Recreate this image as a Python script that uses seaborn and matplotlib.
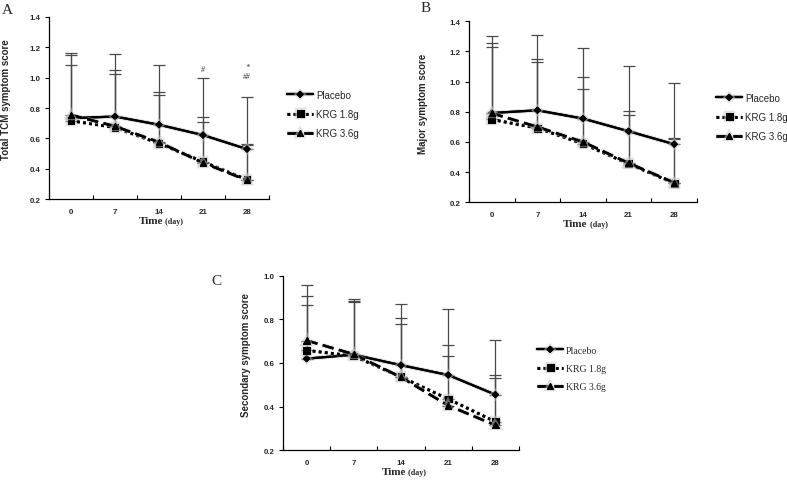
import numpy as np
import matplotlib
matplotlib.use('Agg')
import matplotlib.pyplot as plt
import matplotlib.patheffects as pe
import seaborn as sns

# ── data ─────────────────────────────────────────────────────
days = [0, 7, 14, 21, 28]
groups = ['Placebo', 'KRG 1.8g', 'KRG 3.6g']

# panel A : total TCM symptom score (mean, mean+SD)
a_placebo = [0.733, 0.744, 0.690, 0.622, 0.530]
a_krg18 = [0.716, 0.672, 0.567, 0.447, 0.329]
a_krg36 = [0.754, 0.680, 0.575, 0.440, 0.325]
a_placebo_up = [1.159, 1.153, 1.083, 0.995, 0.871]
a_krg18_up = [1.083, 1.026, 0.886, 0.711, 0.557]
a_krg36_up = [1.148, 1.048, 0.903, 0.741, 0.566]

# panel B : major symptom score
b_placebo = [0.792, 0.810, 0.755, 0.671, 0.585]
b_krg18 = [0.749, 0.692, 0.588, 0.455, 0.327]
b_krg36 = [0.790, 0.700, 0.600, 0.460, 0.330]
b_placebo_up = [1.303, 1.312, 1.223, 1.104, 0.994]
b_krg18_up = [1.232, 1.128, 0.954, 0.780, 0.620]
b_krg36_up = [1.256, 1.151, 1.029, 0.804, 0.627]

# panel C : secondary symptom score
c_placebo = [0.620, 0.638, 0.590, 0.545, 0.455]
c_krg18 = [0.658, 0.632, 0.536, 0.435, 0.331]
c_krg36 = [0.703, 0.640, 0.535, 0.405, 0.315]
c_placebo_up = [0.959, 0.893, 0.870, 0.847, 0.705]
c_krg18_up = [0.864, 0.885, 0.780, 0.632, 0.531]
c_krg36_up = [0.905, 0.880, 0.808, 0.683, 0.547]

# significance marks on panel A (baseline heights)
sig_days = [21, 28, 28]
sig_text = ['#', '*', '##']
sig_y = [1.045, 1.058, 1.0]

# ── style ────────────────────────────────────────────────────
sns.set_style('ticks')
plt.rcParams['font.family'] = ['Liberation Sans', 'DejaVu Sans']

SERIF = ['Liberation Serif', 'DejaVu Serif']
styles = {
    'Placebo':  dict(marker='D', markersize=3.2, linestyle='-', linewidth=1.6),
    'KRG 1.8g': dict(marker='s', markersize=5.0, linestyle=(0, (1, 1.2)), linewidth=2.0),
    'KRG 3.6g': dict(marker='^', markersize=4.5, linestyle=(0, (4.5, 2.2)), linewidth=1.8),
}
halo = [pe.withStroke(linewidth=3.2, foreground='#c8c8c8', alpha=0.5)]

fig = plt.figure(figsize=(7.87, 4.81), dpi=100)


def panel(rect, means, uppers, ymax, ylabel, label_x, letter, letter_xy,
          leg_xy, leg_serif=False):
    ax = fig.add_axes(rect)
    # error bars (upper only) behind the lines
    for m, u in zip(means, uppers):
        m = np.array(m)
        up = np.array(u) - m
        ax.errorbar(days, m, yerr=[np.zeros_like(up), up], fmt='none',
                    ecolor='#4a4a4a', elinewidth=0.9, capsize=4.5,
                    capthick=0.9, zorder=1)
    handles = []
    for g, m in zip(groups, means):
        n0 = len(ax.lines)
        sns.lineplot(x=days, y=m, ax=ax, color='black', zorder=3,
                     markeredgecolor='black', **styles[g])
        ln = ax.lines[n0]
        ln.set_path_effects(halo + [pe.Normal()])
        handles.append(ln)

    ax.set_xlim(-3.5, 31.5)
    ax.set_ylim(0.2, ymax)
    ax.set_yticks(np.arange(0.2, ymax + 0.01, 0.2))
    ax.set_yticklabels([f'{v:.1f}' for v in np.arange(0.2, ymax + 0.01, 0.2)])
    ax.set_xticks(days)
    ax.set_xticklabels([str(d) for d in days])
    ax.set_xticks(np.arange(-3.5, 32, 7), minor=True)
    ax.tick_params(axis='x', which='major', length=0, pad=6,
                   labelsize=5.7)
    ax.tick_params(axis='x', which='minor', direction='in', length=3,
                   width=0.8, color='black')
    ax.tick_params(axis='y', which='major', direction='out', length=3,
                   width=0.8, pad=3, labelsize=5.7, color='black')
    for t in ax.get_xticklabels() + ax.get_yticklabels():
        t.set_fontweight('bold')
    sns.despine(ax=ax)
    for s in ['left', 'bottom']:
        ax.spines[s].set_color('black')
        ax.spines[s].set_linewidth(0.9)

    ax.set_xlabel('')
    ax.set_ylabel(ylabel, fontsize=7, fontweight='bold')
    ax.yaxis.set_label_coords(label_x, 0.55)
    ax.annotate('Time', xy=(0.52, 0), xycoords='axes fraction',
                xytext=(0, -15.4), textcoords='offset points',
                ha='right', va='center', fontsize=8, fontweight='bold',
                family=SERIF)
    ax.annotate(' (day)', xy=(0.52, 0), xycoords='axes fraction',
                xytext=(0, -15.7), textcoords='offset points',
                ha='left', va='center', fontsize=5.8, fontweight='bold',
                family=SERIF)
    fig.text(letter_xy[0], letter_xy[1], letter, fontsize=11, family=SERIF,
             ha='center', va='center')

    leg = ax.legend(handles=handles, labels=groups, loc='center left',
                    bbox_to_anchor=leg_xy, bbox_transform=fig.transFigure,
                    frameon=False, handlelength=2.7, handletextpad=0.3,
                    labelspacing=0.95, borderpad=0, borderaxespad=0,
                    fontsize=7)
    if leg_serif:
        for t in leg.get_texts():
            t.set_family(SERIF)
    return ax


W, H = 787, 481


def rect(x0, x1, ytop, ybot):
    return [x0 / W, 1 - ybot / H, (x1 - x0) / W, (ybot - ytop) / H]


ax_a = panel(rect(49, 269, 17.7, 200.3),
             [a_placebo, a_krg18, a_krg36],
             [a_placebo_up, a_krg18_up, a_krg36_up],
             1.4, 'Total TCM symptom score', -0.173, 'A', (7 / W, 1 - 10 / H),
             (287 / W, 1 - 115 / H))
for d, t, y in zip(sig_days, sig_text, sig_y):
    ax_a.text(d, y, t, fontsize=5.5, style='italic', family=SERIF,
              ha='center', va='baseline', color='#333333')

panel(rect(469, 697, 22.3, 203.3),
      [b_placebo, b_krg18, b_krg36],
      [b_placebo_up, b_krg18_up, b_krg36_up],
      1.4, 'Major symptom score', -0.18, 'B', (426 / W, 1 - 9 / H),
      (716 / W, 1 - 118 / H))

panel(rect(283, 519, 276.7, 451.3),
      [c_placebo, c_krg18, c_krg36],
      [c_placebo_up, c_krg18_up, c_krg36_up],
      1.0, 'Secondary symptom score', -0.134, 'C', (216.7 / W, 1 - 281.5 / H),
      (537 / W, 1 - 369.5 / H), leg_serif=True)

fig.savefig('out.png', dpi=100)
